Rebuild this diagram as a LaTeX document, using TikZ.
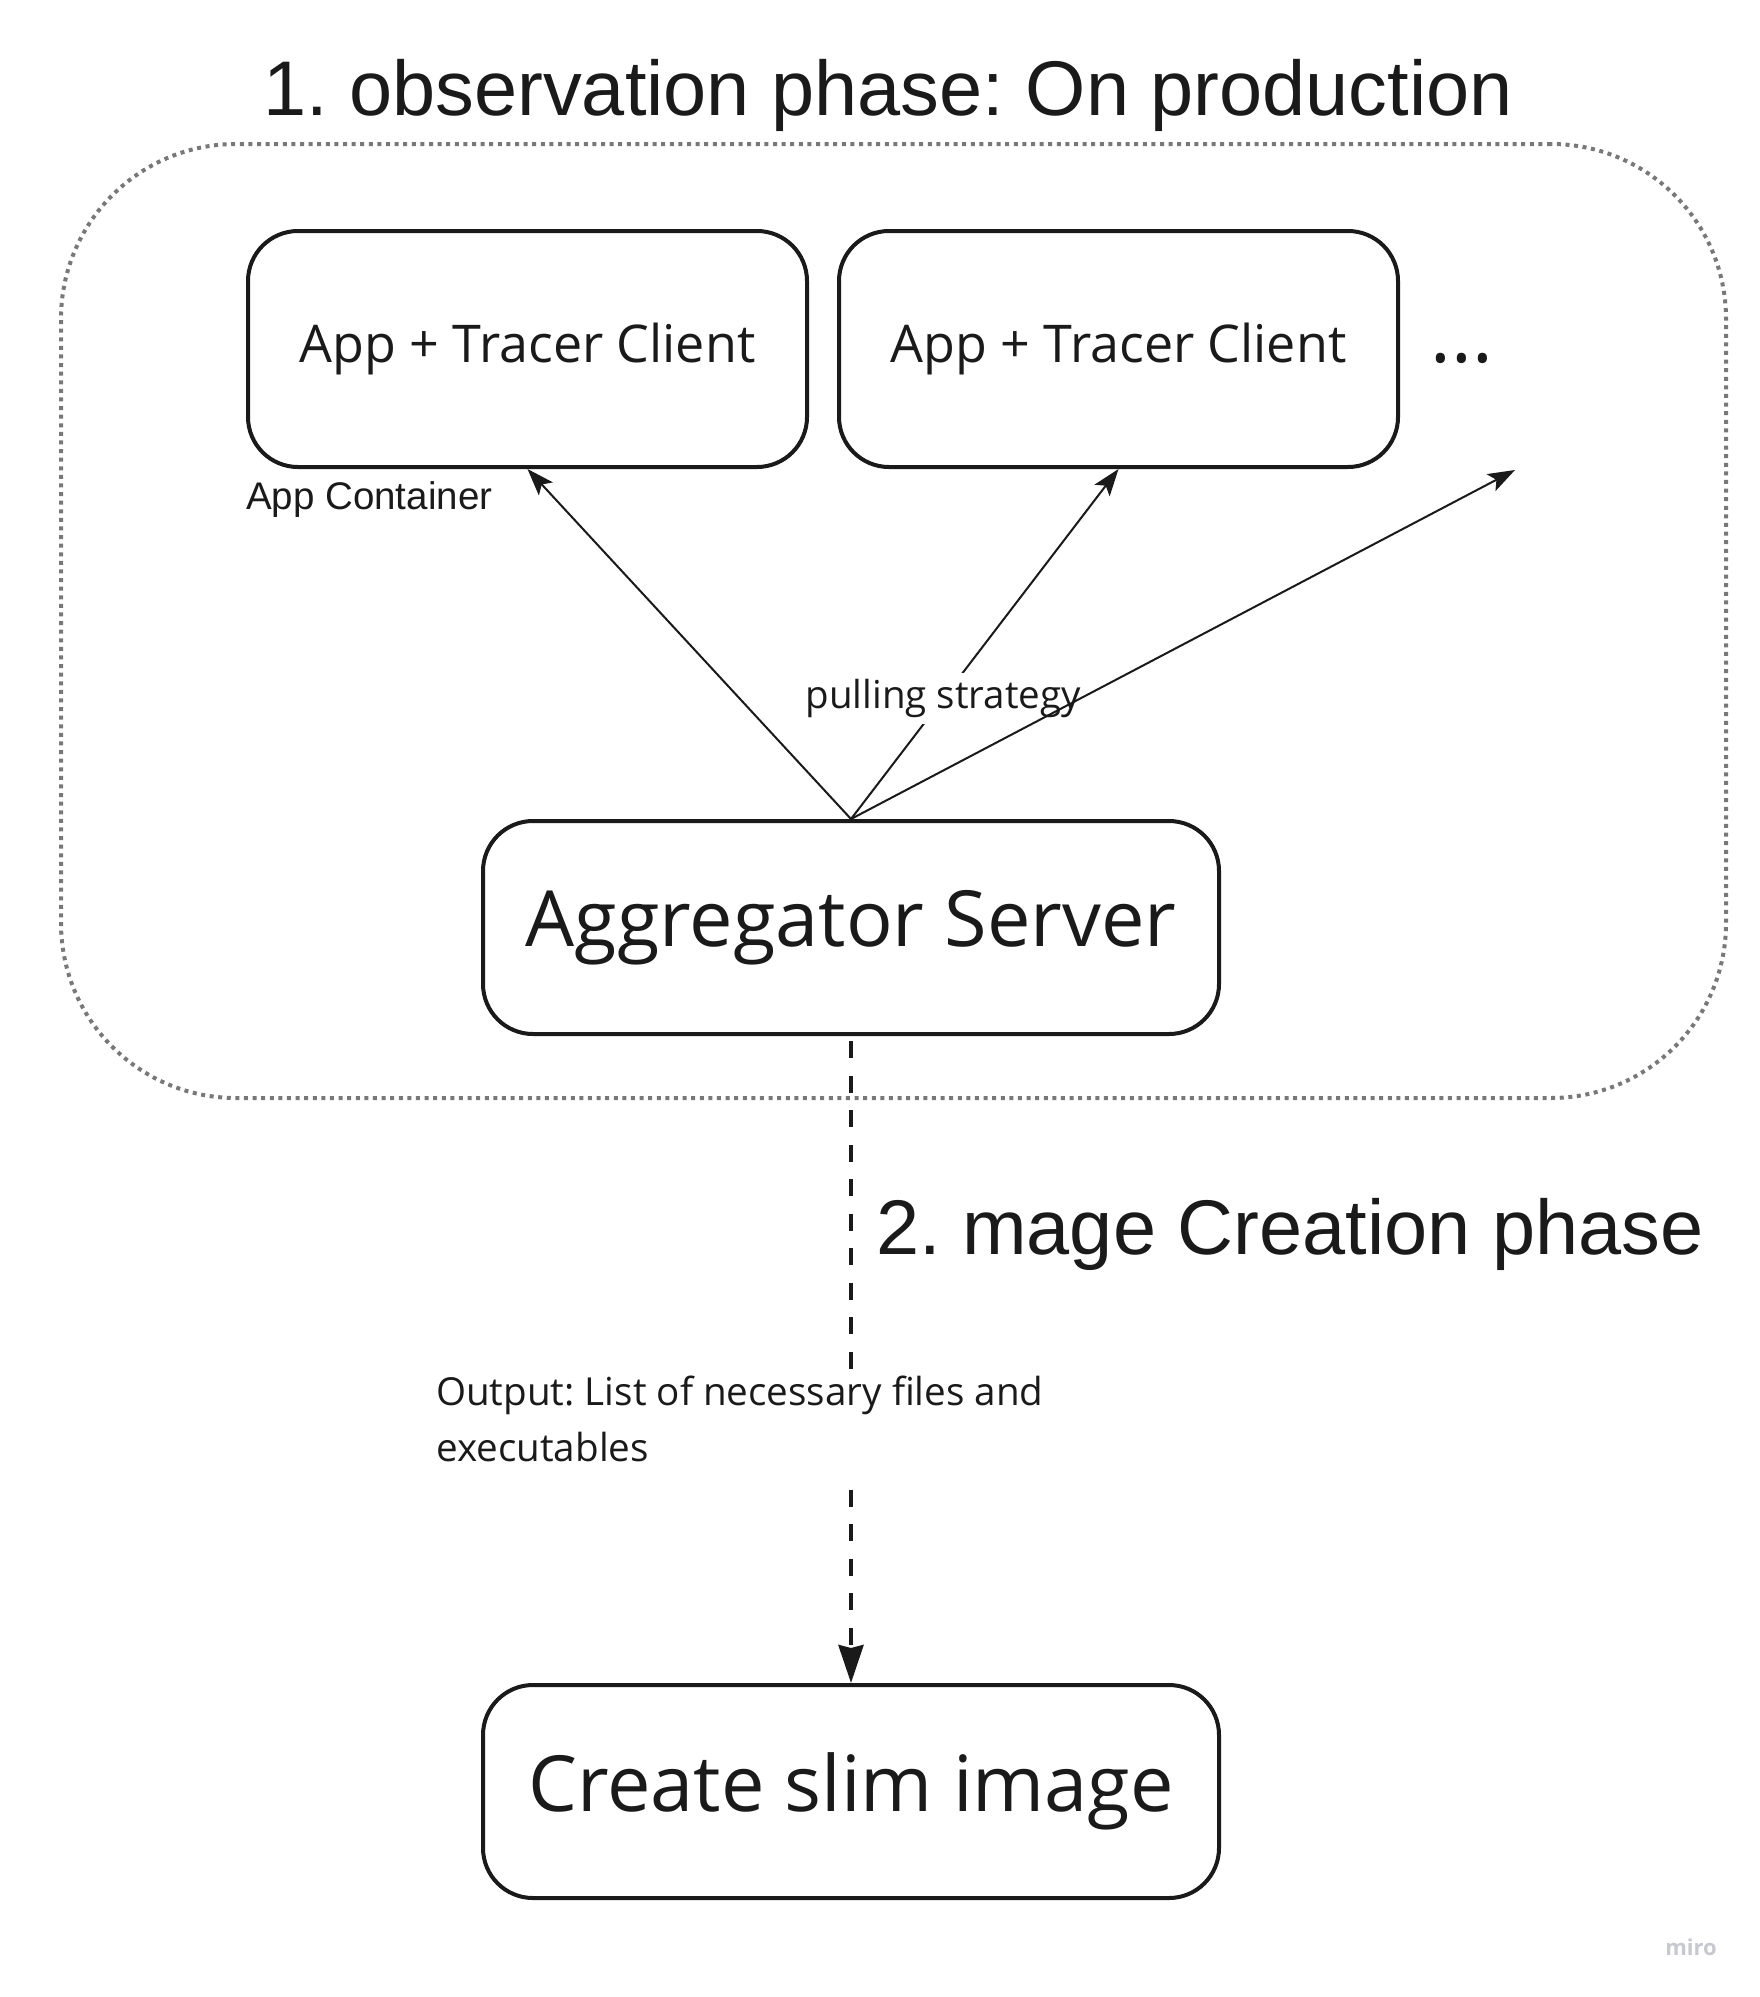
\documentclass[tikz,border=0pt]{standalone}
\usepackage{fontspec}
\setmainfont{Open Sans}
\newfontfamily\arialf{Liberation Sans}
\usetikzlibrary{arrows.meta}
\definecolor{ink}{HTML}{1A1A1A}
\definecolor{dotgray}{HTML}{787878}
\definecolor{mirogray}{HTML}{C8C8D0}
\frenchspacing
\begin{document}
\begin{tikzpicture}[x=1pt,y=-1pt,
  box/.style={draw=ink, line width=4pt, rounded corners=50pt, inner sep=0pt, text=ink},
  smallbox/.style={box, minimum width=559pt, minimum height=236pt, font=\fontsize{52pt}{62pt}\selectfont},
  bigbox/.style={box, minimum width=736pt, minimum height=213pt, font=\fontsize{77.5pt}{90pt}\selectfont},
  container/.style={draw=dotgray, line width=4pt, dash pattern=on 4pt off 4.6pt, rounded corners=175pt, inner sep=0pt, minimum width=1665pt, minimum height=954pt},
  pull/.style={draw=ink, line width=2pt, -{Stealth[length=27pt,width=19pt,inset=6pt]}},
  flow/.style={draw=ink, line width=4pt, dash pattern=on 17pt off 17.5pt, dash phase=29.5pt, -{Stealth[length=38pt,width=25pt,inset=3pt]}},
  heading/.style={font=\arialf\fontsize{77.5pt}{90pt}\selectfont, text=ink, inner sep=0pt},
  note/.style={text=ink, inner sep=0pt, font=\fontsize{38.6pt}{56pt}\selectfont}
]
\useasboundingbox[fill=white] (0,0) rectangle (1760,1997);

\node[container] (obs) at (893.5,621) {};

\node[heading, anchor=base] (title) at (888,115) {1. observation phase: On production};

\node[smallbox] (box1) at (527.5,349) {App + Tracer Client};
\node[smallbox] (box2) at (1118.5,349) {App + Tracer Client};
\node[text=ink, inner sep=0pt, anchor=base, font=\fontsize{78pt}{90pt}\selectfont] (dots) at (1462,362) {...};
\node[note, anchor=base west, font=\arialf\fontsize{38.5pt}{46pt}\selectfont] (appc) at (246,509) {App Container};

\node[bigbox] (agg) at (851,927.5) {Aggregator Server};
\node[bigbox] (slim) at (851,1791.5) {Create slim image};

\coordinate (more) at (1515,470);

\draw[pull] (agg.north) -- (box1.south);
\draw[pull] (agg.north) -- node[pos=0.345, fill=white, text=ink, inner sep=6pt, font=\fontsize{38.5pt}{46pt}\selectfont] (pull) {pulling strategy} (box2.south);
\draw[pull] (agg.north) -- (more);

\draw[flow] (agg.south) -- (slim.north);

\node[note, fill=white, anchor=north west, align=left, inner xsep=4pt, inner ysep=0pt] (out) at (432,1370) {\rule{0pt}{35pt}Output: List of necessary files and\\executables\rule[-20pt]{0pt}{20pt}};

\node[heading, anchor=base west] (phase2) at (876,1254) {2. mage Creation phase};

\node[text=mirogray, inner sep=0pt, anchor=base, font=\bfseries\fontsize{22pt}{26pt}\selectfont] (miro) at (1691,1955) {miro};
\end{tikzpicture}
\end{document}
